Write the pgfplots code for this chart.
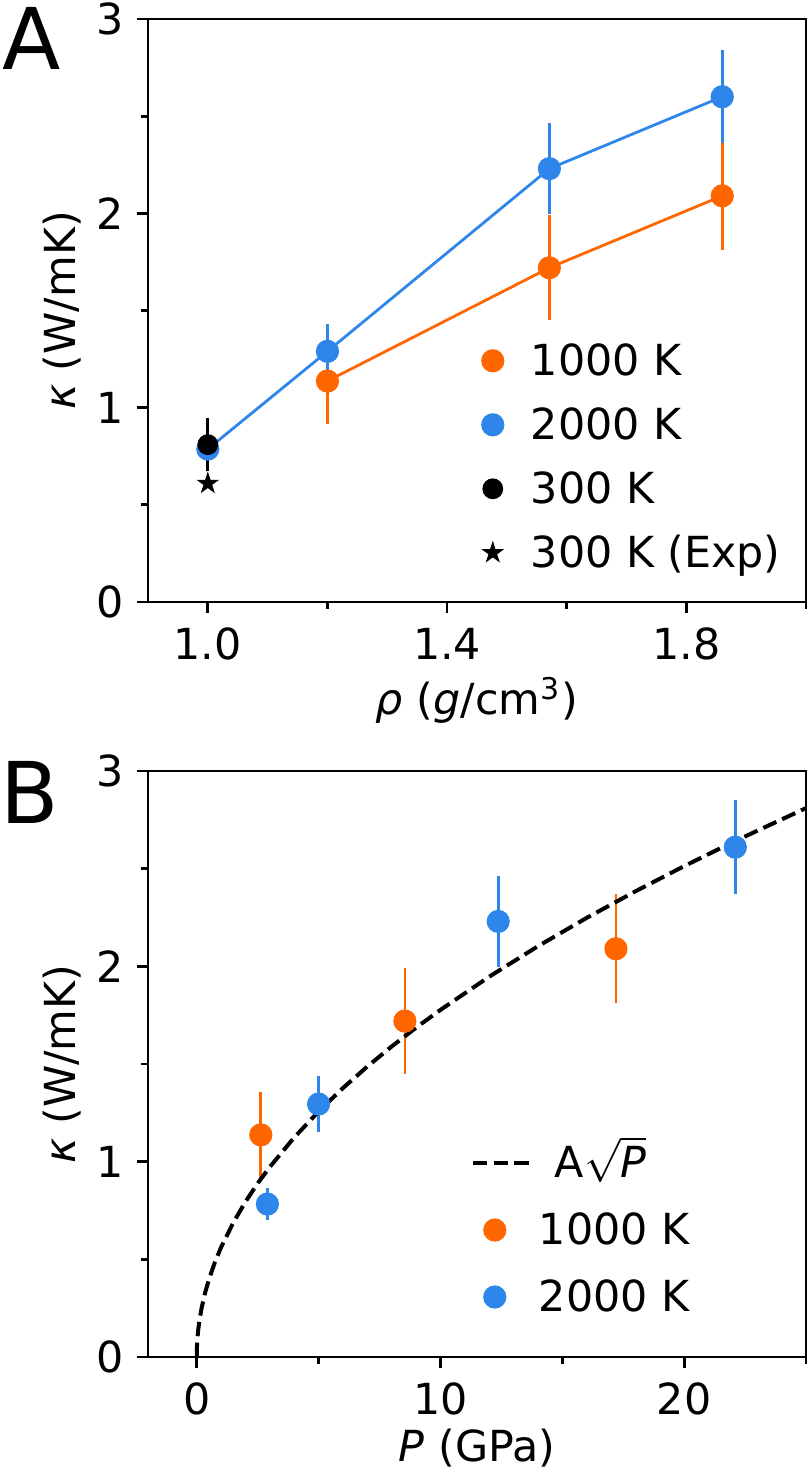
\documentclass[border=0pt]{standalone}
\usepackage{pgfplots}
\pgfplotsset{compat=1.18}
\usepackage{fontspec}
\setmainfont{DejaVu Sans}
\usetikzlibrary{plotmarks}

\definecolor{c1000}{RGB}{255,102,0}
\definecolor{c2000}{RGB}{46,134,234}

% filled five-pointed star
\pgfdeclareplotmark{fstar}{%
  \pgfpathmoveto{\pgfpointpolar{90}{\pgfplotmarksize}}%
  \pgfpathlineto{\pgfpointpolar{126}{0.382*\pgfplotmarksize}}%
  \pgfpathlineto{\pgfpointpolar{162}{\pgfplotmarksize}}%
  \pgfpathlineto{\pgfpointpolar{198}{0.382*\pgfplotmarksize}}%
  \pgfpathlineto{\pgfpointpolar{234}{\pgfplotmarksize}}%
  \pgfpathlineto{\pgfpointpolar{270}{0.382*\pgfplotmarksize}}%
  \pgfpathlineto{\pgfpointpolar{306}{\pgfplotmarksize}}%
  \pgfpathlineto{\pgfpointpolar{342}{0.382*\pgfplotmarksize}}%
  \pgfpathlineto{\pgfpointpolar{18}{\pgfplotmarksize}}%
  \pgfpathlineto{\pgfpointpolar{54}{0.382*\pgfplotmarksize}}%
  \pgfpathclose
  \pgfusepathqfill}

\newcommand{\fs}{\fontsize{10.7}{12.8}\selectfont}

\pgfplotsset{
  panel/.style={
    scale only axis, width=164.5pt,
    axis line style={line width=0.7pt},
    tick style={line width=0.7pt, black},
    tick align=outside,
    major tick length=2.75pt, minor tick length=1.65pt,
    xtick pos=bottom, ytick pos=left,
    ymin=0, ymax=3, ytick={0,1,2,3}, minor ytick={0.5,1.5,2.5},
    /pgf/number format/assume math mode=true,
    ticklabel style={font=\fs},
    yticklabel style={anchor=east, inner sep=0pt, xshift=-3pt},
    xticklabel style={anchor=north, inner sep=0pt, yshift=-3.5pt},
    label style={font=\fs},
    every axis y label/.style={at={(rel axis cs:-0.13,0.5)}, rotate=90, anchor=center},
    ylabel={{\itshape κ} (W/mK)},
    clip=false,
    legend cell align=left,
    err/.style={error bars/.cd, y dir=both, y explicit, error mark=none,
      error bar style={line width=0.67pt, solid}},
  },
  dotlegA/.style={legend image code/.code={\path[draw=none, fill=none] (0pt,0pt) -- (14pt,0pt); \draw[##1] plot coordinates {(5.5pt,0pt)};}},
  dotlegB/.style={legend image code/.code={\path[draw=none, fill=none] (0pt,0pt) -- (15pt,0pt); \draw[##1] plot coordinates {(5.5pt,0pt)};}},
  fitleg/.style={legend image code/.code={\draw[##1] (0pt,0pt) -- (15pt,0pt);}},
  dot/.style={only marks, mark=*, color=#1, mark size=2.7pt, mark options={line width=0.4pt}},
  fitline/.style={black, line width=1pt, dash pattern=on 3.6pt off 1.6pt},
}

\begin{document}
\begin{tikzpicture}[font=\fs]
\useasboundingbox (-37pt,4.75pt) rectangle (165.5pt,-363pt);

% ---------------- panel A ----------------
\begin{axis}[panel, dotlegA, at={(0pt,0pt)}, anchor=north west, height=145.75pt,
  xmin=0.9, xmax=2.0, xtick={1.0,1.4,1.8}, minor xtick={1.2,1.6,2.0},
  xticklabel style={/pgf/number format/.cd, fixed, fixed zerofill, precision=1},
  xlabel={{\itshape ρ} ({\itshape g}/cm\textsuperscript{3})},
  every axis x label/.style={at={(rel axis cs:0.5,-0.1938)}, anchor=base},
  legend style={draw=none, fill=none, at={(0,0)}, anchor=south west,
    xshift=80.5pt, yshift=6.4pt, inner sep=0pt, row sep=4.6pt, column sep=0pt,
    nodes={inner sep=1pt, text height=8.4pt, text depth=1pt}, font=\fs},
]
\addplot[c1000, line width=0.7pt, forget plot] coordinates {(1.2,1.137) (1.571,1.72) (1.86,2.09)};
\addplot[c2000, line width=0.7pt, forget plot] coordinates {(1.0,0.787) (1.2,1.29) (1.571,2.23) (1.86,2.60)};

\addplot[dot=c1000, err] table[x=x, y=y, y error=e] {
x y e
1.2 1.137 0.22
1.571 1.72 0.27
1.86 2.09 0.28
};
\addlegendentry{1000 K}
\addplot[dot=c2000, err] table[x=x, y=y, y error=e] {
x y e
1.0 0.787 0.08
1.2 1.29 0.143
1.571 2.23 0.235
1.86 2.60 0.24
};
\addlegendentry{2000 K}
\addplot[dot=black, mark size=2.4pt, err] table[x=x, y=y, y error=e] {
x y e
1.0 0.81 0.135
};
\addlegendentry{300 K}
\addplot[only marks, mark=fstar, mark size=3pt, black, mark options={fill=black}] coordinates {(1.0,0.61)};
\addlegendentry{300 K (Exp)}

\node[anchor=base west, inner sep=0pt, font=\fontsize{21.3}{24}\selectfont] at ([xshift=-36.5pt,yshift=-12.5pt]rel axis cs:0,1) {A};
\end{axis}

% ---------------- panel B ----------------
\begin{axis}[panel, dotlegB, at={(0pt,-188pt)}, anchor=north west, height=146.5pt,
  xmin=-2, xmax=25, xtick={0,10,20}, minor xtick={5,15,25},
  xlabel={{\itshape P} (GPa)},
  every axis x label/.style={at={(rel axis cs:0.5,-0.1775)}, anchor=base},
  legend style={draw=none, fill=none, at={(0,0)}, anchor=south west,
    xshift=80.5pt, yshift=9.1pt, inner sep=0pt, row sep=5.35pt, column sep=0pt,
    nodes={inner sep=1pt, text height=8.4pt, text depth=1pt}, font=\fs},
]
\addlegendimage{fitline, fitleg}
\addlegendentry{\hspace{4pt}A$\sqrt{\textit{P}}$}

\addplot[dot=c1000, err] table[x=x, y=y, y error=e] {
x y e
2.63 1.137 0.22
8.54 1.72 0.27
17.2 2.09 0.28
};
\addlegendentry{1000 K}
\addplot[dot=c2000, err] table[x=x, y=y, y error=e] {
x y e
2.9 0.783 0.08
5.0 1.295 0.145
12.37 2.23 0.235
22.1 2.61 0.24
};
\addlegendentry{2000 K}

% fit curve A*sqrt(P)
\addplot[fitline, forget plot] table {
0 0
0.01 0.056
0.03 0.097
0.06 0.138
0.1 0.178
0.2 0.251
0.35 0.332
0.5 0.397
0.75 0.487
1 0.562
1.5 0.688
2 0.795
2.5 0.889
3 0.973
4 1.124
5 1.257
6 1.377
7 1.487
8 1.590
9 1.686
10 1.777
12 1.947
14 2.103
16 2.248
18 2.384
20 2.513
22 2.636
25 2.810
};

\node[anchor=base west, inner sep=0pt, font=\fontsize{21.3}{24}\selectfont] at ([xshift=-37pt,yshift=-13pt]rel axis cs:0,1) {B};
\end{axis}
\end{tikzpicture}
\end{document}
